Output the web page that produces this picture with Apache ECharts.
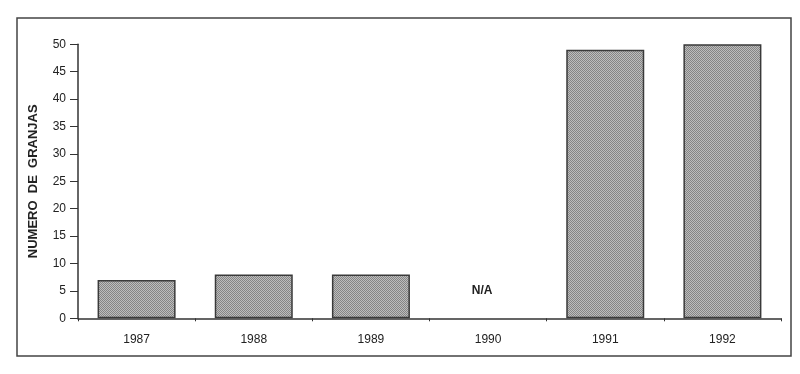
<!DOCTYPE html>
<html><head><meta charset="utf-8">
<script src="https://cdn.jsdelivr.net/npm/echarts@6/dist/echarts.min.js"></script>
<style>html,body{margin:0;padding:0;background:#fff}#c{width:800px;height:374px}</style>
</head><body><div id="c"></div>
<script>
const categories = ['1987','1988','1989','1990','1991','1992'];
const granjas = [7, 8, 8, null, 49, 50];
const naLabel = 'N/A';
const yTicks = [0,5,10,15,20,25,30,35,40,45,50];

const pc = document.createElement('canvas');
pc.width = 2; pc.height = 2;
const g = pc.getContext('2d');
g.fillStyle = '#bdbdbd'; g.fillRect(0,0,2,2);
g.fillStyle = '#858585'; g.fillRect(0,0,1,1); g.fillRect(1,1,1,1);

const font = 'Liberation Sans, Arial, sans-serif';
const chart = echarts.init(document.getElementById('c'), null, {renderer:'canvas'});
chart.setOption({
  animation: false,
  backgroundColor: '#fff',
  grid: {left: 78, right: 19, top: 44.3, bottom: 55.7, containLabel: false},
  graphic: [{type:'rect', shape:{x:17, y:18, width:774, height:338}, style:{fill:'none', stroke:'#444', lineWidth:1.5}, z:-1}],
  xAxis: {
    type: 'category', data: categories,
    axisLine: {lineStyle: {color:'#333', width:1.5}},
    axisTick: {show:true, length:3, lineStyle:{color:'#333'}},
    axisLabel: {color:'#222', fontFamily:font, fontSize:12, margin:15}
  },
  yAxis: {
    type: 'value', min: yTicks[0], max: yTicks[yTicks.length-1], interval: 5,
    name: 'NUMERO  DE  GRANJAS', nameLocation: 'middle', nameGap: 38, nameRotate: 90,
    nameTextStyle: {color:'#222', fontFamily:font, fontSize:13, fontWeight:'bold'},
    axisLine: {show:true, lineStyle: {color:'#333', width:1.5}},
    axisTick: {show:true, length:8, lineStyle:{color:'#333'}},
    axisLabel: {color:'#222', fontFamily:font, fontSize:12, margin:12},
    splitLine: {show:false}
  },
  series: [{
    type: 'bar', barWidth: 78,
    data: granjas.map(v => v === null ? {value: 0, label: {show:true, position:'top', distance:22, formatter: naLabel, color:'#222', fontFamily:font, fontSize:12, fontWeight:'bold', offset:[-6,0]}, itemStyle:{borderWidth:0}} : v),
    itemStyle: {color: {image: pc, repeat:'repeat'}, borderColor:'#3a3a3a', borderWidth:1.5}
  }]
});
</script></body></html>
